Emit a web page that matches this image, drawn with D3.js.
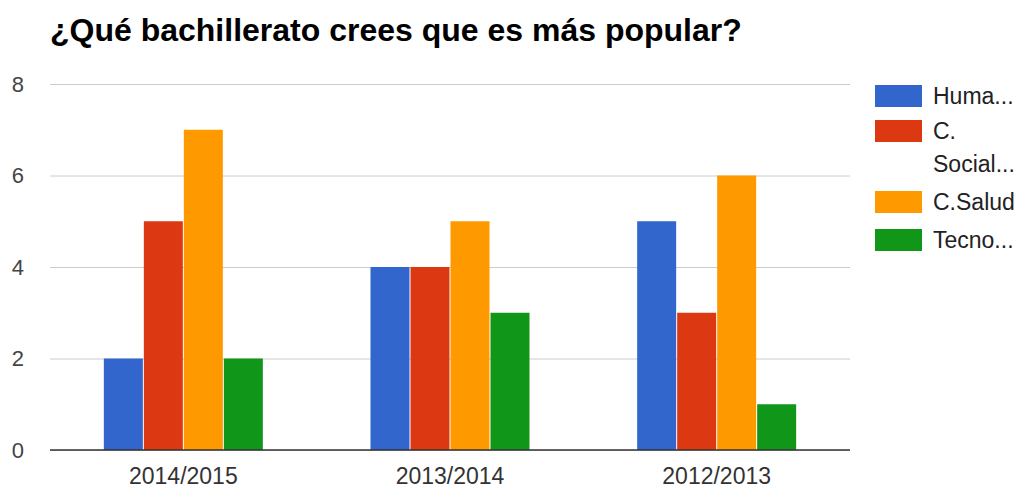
<!DOCTYPE html>
<html>
<head>
<meta charset="utf-8">
<script src="https://cdn.jsdelivr.net/npm/d3@7"></script>
<style>
body { margin: 0; background: #fff; }
svg { font-family: Arial, "Liberation Sans", sans-serif; }
</style>
</head>
<body>
<svg id="chart" width="1026" height="488"></svg>
<script>
// data
const categories = ["2014/2015", "2013/2014", "2012/2013"]
const seriesNames = ["Humanidades", "C. Sociales", "C.Salud", "Tecnológico"]
const legendLabels = [["Huma..."], ["C.", "Social..."], ["C.Salud"], ["Tecno..."]]
const humanidades = [2, 4, 5]
const sociales = [5, 4, 3]
const salud = [7, 5, 6]
const tecno = [2, 3, 1]
const yTicks = [0, 2, 4, 6, 8]
const colors = ["#3366cc", "#dc3912", "#ff9900", "#109618"]

const series = [humanidades, sociales, salud, tecno]

const svg = d3.select("#chart")
const plotLeft = 50, plotRight = 850, plotTop = 84, plotBottom = 450
const font = "Arial, 'Liberation Sans', sans-serif"

const x = d3.scaleBand()
	.domain(categories)
	.range([plotLeft, plotRight])
	.paddingInner(0.4)
	.paddingOuter(0.2)

const xs = d3.scaleBand()
	.domain(seriesNames)
	.range([0, x.bandwidth()])

const y = d3.scaleLinear()
	.domain([0, 8])
	.range([plotBottom, plotTop])

// title
svg.append("text")
	.attr("x", 50)
	.attr("y", 41)
	.attr("font-size", 32)
	.attr("font-weight", "bold")
	.attr("fill", "#000")
	.text("¿Qué bachillerato crees que es más popular?")

// gridlines + y labels
const yAxis = d3.axisLeft(y)
	.tickValues(yTicks)
	.tickSize(-(plotRight - plotLeft))
	.tickPadding(26)

const gy = svg.append("g")
	.attr("transform", `translate(${plotLeft},0)`)
	.call(yAxis)
gy.select(".domain").remove()
gy.selectAll(".tick line").attr("stroke", "#cccccc")
gy.selectAll(".tick text")
	.attr("font-size", 22)
	.attr("fill", "#444")
	.attr("font-family", font)

// bars
const groups = svg.append("g")
	.selectAll("g")
	.data(categories)
	.join("g")
	.attr("transform", d => `translate(${x(d)},0)`)

groups.selectAll("rect")
	.data((c, i) => series.map((s, k) => ({ name: seriesNames[k], value: s[i], k })))
	.join("rect")
	.attr("x", d => xs(d.name) + 0.5)
	.attr("width", xs.bandwidth() - 1)
	.attr("y", d => y(d.value))
	.attr("height", d => y(0) - y(d.value))
	.attr("fill", d => colors[d.k])

// baseline
svg.append("line")
	.attr("x1", plotLeft).attr("x2", plotRight)
	.attr("y1", y(0)).attr("y2", y(0))
	.attr("stroke", "#333")
	.attr("stroke-width", 1.5)

// x labels
const xAxis = d3.axisBottom(x).tickSize(0).tickPadding(18)
const gx = svg.append("g")
	.attr("transform", `translate(0,${plotBottom})`)
	.call(xAxis)
gx.select(".domain").remove()
gx.selectAll(".tick text")
	.attr("font-size", 23)
	.attr("fill", "#333")
	.attr("font-family", font)

// legend
const legendY = [96, 131, 202, 240]
const legend = svg.append("g")
	.selectAll("g")
	.data(seriesNames)
	.join("g")
	.attr("transform", (d, i) => `translate(875,${legendY[i]})`)

legend.append("rect")
	.attr("x", 0).attr("y", -11)
	.attr("width", 47).attr("height", 22)
	.attr("fill", (d, i) => colors[i])

legend.append("text")
	.attr("x", 58)
	.attr("font-size", 23)
	.attr("fill", "#222")
	.selectAll("tspan")
	.data((d, i) => legendLabels[i])
	.join("tspan")
	.attr("x", 58)
	.attr("dy", (d, j) => j === 0 ? "0.35em" : "33px")
	.text(d => d)
</script>
</body>
</html>
